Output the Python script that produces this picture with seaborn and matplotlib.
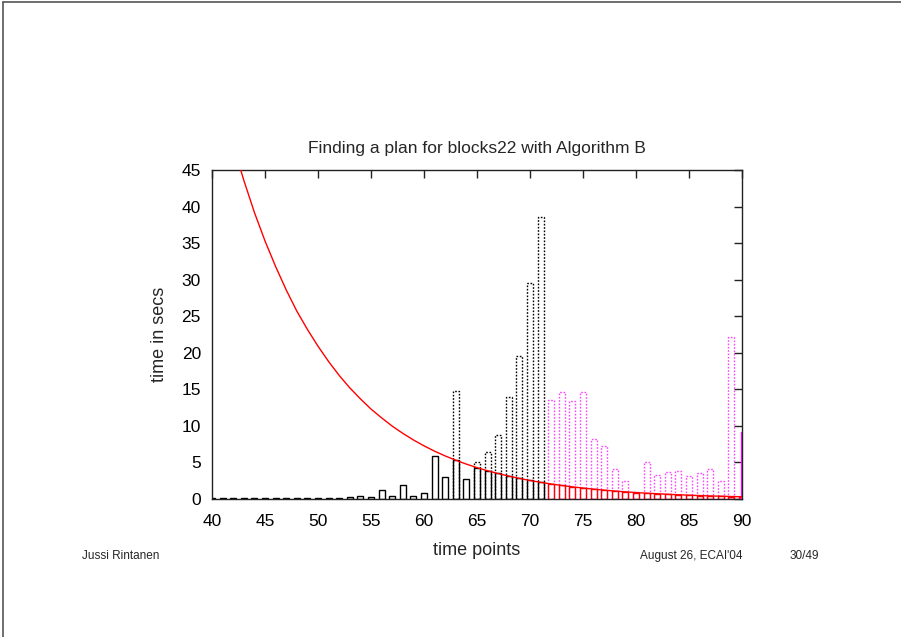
import matplotlib
matplotlib.use("Agg")
import matplotlib.pyplot as plt
import seaborn as sns
from matplotlib.lines import Line2D

# Thời gian thực tế đã chạy cho mỗi độ dài kế hoạch (thanh đen liền)
done_t = list(range(40, 72))
done_secs = [0.1, 0.1, 0.1, 0.1, 0.1, 0.1, 0.1, 0.1, 0.1, 0.1,
             0.15, 0.1, 0.15, 0.25, 0.4, 0.3, 1.2, 0.45, 1.9, 0.45,
             0.8, 5.9, 3.05, 5.3, 2.8, 4.3, 3.85, 3.5, 3.1, 2.85,
             2.55, 2.3]

# Tổng thời gian cần (thanh đen chấm)
need_t = [63, 65, 66, 67, 68, 69, 70, 71]
need_secs = [14.8, 5.1, 6.4, 8.75, 13.9, 19.6, 29.5, 38.6]

# Các độ dài chưa xong (thanh hồng chấm)
open_t = list(range(72, 90))
open_secs = [13.5, 14.6, 13.45, 14.6, 8.2, 7.3, 4.05, 2.4, 0.9,
             5.05, 3.3, 3.65, 3.8, 3.2, 3.55, 4.1, 2.4, 22.1]
edge_t = [90]
edge_secs = [9.2]

# Thời gian được cấp (thanh đỏ) và đường cong đỏ
alloc_t = list(range(72, 91))
alloc_secs = [2.05, 1.85, 1.66, 1.50, 1.35, 1.21, 1.09, 0.98, 0.88, 0.79,
              0.72, 0.64, 0.58, 0.52, 0.47, 0.42, 0.38, 0.34, 0.31]

curve_t = list(range(40, 91))
curve_secs = [59.8, 53.8, 48.4, 43.6, 39.2, 35.3, 31.8, 28.6, 25.7, 23.2,
              20.9, 18.8, 16.9, 15.2, 13.7, 12.3, 11.1, 9.97, 8.98, 8.08,
              7.27, 6.54, 5.89, 5.3, 4.77, 4.29, 3.86, 3.48, 3.13, 2.82,
              2.53, 2.28, 2.05, 1.85, 1.66, 1.50, 1.35, 1.21, 1.09, 0.98,
              0.88, 0.79, 0.72, 0.64, 0.58, 0.52, 0.47, 0.42, 0.38, 0.34, 0.31]

sns.set_theme(style="white")
plt.rcParams['font.family'] = ['Liberation Sans', 'DejaVu Sans']

fig = plt.figure(figsize=(9.01, 6.37), dpi=100)
ax = fig.add_axes([212 / 901, 1 - 499 / 637, 530 / 901, 329 / 637])

def bars(t, v, color, ls):
    sns.barplot(x=t, y=v, native_scale=True, width=0.55, fill=False,
                color=color, errorbar=None, linewidth=1.0, linestyle=ls, ax=ax)

bars(done_t, done_secs, "black", "-")
bars(need_t, need_secs, "black", (0, (1.2, 1.2)))
bars(open_t, open_secs, "#ff44ff", (0, (1.2, 1.2)))
bars(alloc_t, alloc_secs, "red", "-")
ax.vlines(edge_t, 0, edge_secs, color="magenta", lw=1.6, zorder=5)
sns.lineplot(x=curve_t, y=curve_secs, color="red", lw=1.0, ax=ax, zorder=6)

ax.set_xlim(40, 90)
ax.set_ylim(0, 45)
ax.set_xticks(range(40, 91, 5))
ax.set_xticklabels([str(v) for v in range(40, 91, 5)])
ax.set_yticks(range(0, 46, 5))
ax.tick_params(direction="in", top=True, right=True, length=6, width=1,
               color="#222222", labelsize=12.5, labelcolor="black")
ax.tick_params(axis="x", pad=11)
ax.tick_params(axis="y", pad=8)
for s in ax.spines.values():
    s.set_color("#222222")
    s.set_linewidth(1.0)

ax.set_title("Finding a plan for blocks22 with Algorithm B", fontsize=12.5, pad=12)
ax.set_xlabel("time points", fontsize=13, labelpad=9)
ax.set_ylabel("time in secs", fontsize=13, labelpad=10)

# Chân trang của slide
fig.text(82 / 901, 1 - 556 / 637, "Jussi Rintanen", fontsize=8.5, va="center")
fig.text(640 / 901, 1 - 556 / 637, "August 26, ECAI'04", fontsize=8.5, va="center")
fig.text(790 / 901, 1 - 556 / 637, "30/49", fontsize=8.5, va="center")

# Khung viền slide
fig.add_artist(Line2D([3 / 901, 1], [1 - 2 / 637, 1 - 2 / 637], color="#555555", lw=1.2))
fig.add_artist(Line2D([3 / 901, 3 / 901], [0, 1 - 2 / 637], color="#555555", lw=1.2))

fig.savefig("out.png", dpi=100)
plt.close(fig)
